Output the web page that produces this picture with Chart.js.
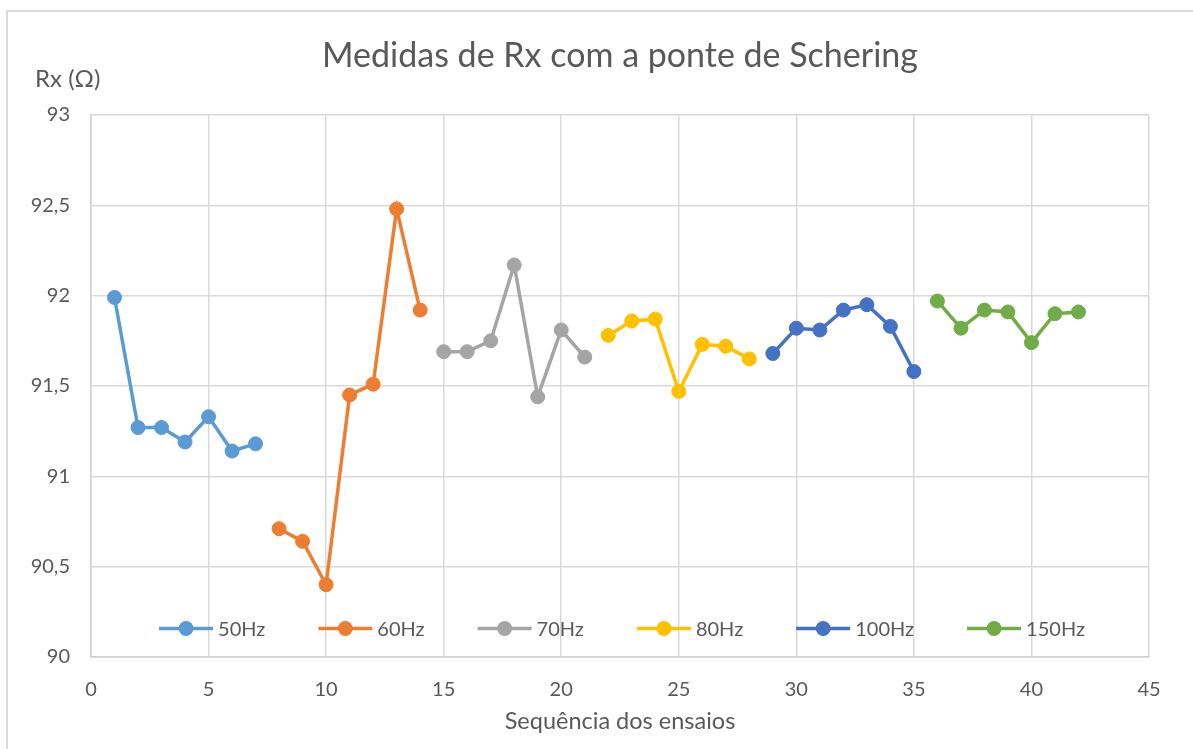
<!DOCTYPE html>
<html><head><meta charset="utf-8">
<script src="https://cdn.jsdelivr.net/npm/chart.js@4.4.0/dist/chart.umd.min.js"></script>
<style>html,body{margin:0;padding:0;background:#fff}canvas{display:block}</style>
</head><body>
<canvas id="c" width="1193" height="749"></canvas>
<script>
const chartTitle = 'Medidas de Rx com a ponte de Schering';
const yAxisTitle = 'Rx (\u03A9)';
const xAxisTitle = 'Sequência dos ensaios';
const seriesNames = ['50Hz', '60Hz', '70Hz', '80Hz', '100Hz', '150Hz'];
const seriesColors = ['#5B9BD5', '#ED7D31', '#A5A5A5', '#FFC000', '#4472C4', '#70AD47'];
const runs50 = [1, 2, 3, 4, 5, 6, 7];
const rx50 = [91.99, 91.27, 91.27, 91.19, 91.33, 91.14, 91.18];
const runs60 = [8, 9, 10, 11, 12, 13, 14];
const rx60 = [90.71, 90.64, 90.40, 91.45, 91.51, 92.48, 91.92];
const runs70 = [15, 16, 17, 18, 19, 20, 21];
const rx70 = [91.69, 91.69, 91.75, 92.17, 91.44, 91.81, 91.66];
const runs80 = [22, 23, 24, 25, 26, 27, 28];
const rx80 = [91.78, 91.86, 91.87, 91.47, 91.73, 91.72, 91.65];
const runs100 = [29, 30, 31, 32, 33, 34, 35];
const rx100 = [91.68, 91.82, 91.81, 91.92, 91.95, 91.83, 91.58];
const runs150 = [36, 37, 38, 39, 40, 41, 42];
const rx150 = [91.97, 91.82, 91.92, 91.91, 91.74, 91.90, 91.91];
const xTicks = [0, 5, 10, 15, 20, 25, 30, 35, 40, 45];
const yTicks = [90, 90.5, 91, 91.5, 92, 92.5, 93];

const allRuns = [runs50, runs60, runs70, runs80, runs100, runs150];
const allRx = [rx50, rx60, rx70, rx80, rx100, rx150];

const FONT = 'Lato, "Open Sans", sans-serif';
const TXT = '#595959';

const datasets = seriesNames.map((name, i) => ({
  label: name,
  data: allRuns[i].map((x, j) => ({ x: x, y: allRx[i][j] })),
  showLine: true,
  borderColor: seriesColors[i],
  backgroundColor: seriesColors[i],
  pointBackgroundColor: seriesColors[i],
  pointBorderColor: seriesColors[i],
  borderWidth: 3.5,
  pointRadius: 7,
  pointBorderWidth: 1,
  pointHoverRadius: 7,
  tension: 0
}));

const framePlugin = {
  id: 'frame',
  beforeDraw(chart) {
    const ctx = chart.ctx;
    ctx.save();
    ctx.fillStyle = '#fff';
    ctx.fillRect(0, 0, chart.width, chart.height);
    ctx.strokeStyle = '#d9d9d9';
    ctx.lineWidth = 2;
    ctx.strokeRect(7, 11, chart.width + 10, chart.height + 10);
    ctx.restore();
  },
  afterDraw(chart) {
    const ctx = chart.ctx;
    const area = chart.chartArea;
    ctx.save();
    // chart title centred over the plot area
    ctx.fillStyle = TXT;
    ctx.font = '34px ' + FONT;
    ctx.textAlign = 'center';
    ctx.textBaseline = 'alphabetic';
    ctx.fillText(chartTitle, (area.left + area.right) / 2, 67);
    // y axis title (horizontal, top-left)
    ctx.font = '24px ' + FONT;
    ctx.textAlign = 'left';
    ctx.fillText(yAxisTitle, 35, 87);
    // x axis title
    ctx.font = '23.5px ' + FONT;
    ctx.textAlign = 'center';
    ctx.fillText(xAxisTitle, (area.left + area.right) / 2, 729);
    // legend inside plot area
    ctx.font = '20px ' + FONT;
    ctx.textAlign = 'left';
    const lineLen = 54, textGap = 5, itemGap = 53;
    const widths = chart.data.datasets.map(d => lineLen + textGap + ctx.measureText(d.label).width);
    const total = widths.reduce((a, b) => a + b, 0) + itemGap * (widths.length - 1);
    let x = (area.left + area.right) / 2 - total / 2 + 2;
    const y = area.bottom - 28.5;
    chart.data.datasets.forEach((d, i) => {
      ctx.strokeStyle = d.borderColor;
      ctx.lineWidth = 3.5;
      ctx.beginPath();
      ctx.moveTo(x, y);
      ctx.lineTo(x + lineLen, y);
      ctx.stroke();
      ctx.fillStyle = d.borderColor;
      ctx.beginPath();
      ctx.arc(x + lineLen / 2, y, 7.5, 0, Math.PI * 2);
      ctx.fill();
      ctx.fillStyle = TXT;
      ctx.textBaseline = 'middle';
      ctx.fillText(d.label, x + lineLen + textGap, y + 1);
      x += widths[i] + itemGap;
    });
    ctx.restore();
  }
};

new Chart(document.getElementById('c'), {
  type: 'scatter',
  data: { datasets: datasets },
  plugins: [framePlugin],
  options: {
    responsive: false,
    devicePixelRatio: 1,
    animation: false,
    layout: { padding: { top: 115, left: 0, right: 44, bottom: 0 } },
    plugins: {
      legend: { display: false },
      tooltip: { enabled: false },
      title: { display: false }
    },
    scales: {
      x: {
        type: 'linear',
        min: 0, max: 45,
        afterBuildTicks: (s) => { s.ticks = xTicks.map(v => ({ value: v })); },
        afterFit: (s) => { s.height = 92; },
        ticks: { color: TXT, font: { family: FONT, size: 20 }, padding: 21, maxRotation: 0 },
        grid: { color: '#d9d9d9', lineWidth: 1.5, drawTicks: false },
        border: { color: '#d0d0d0', width: 1.5 }
      },
      y: {
        min: 90, max: 93,
        afterBuildTicks: (s) => { s.ticks = yTicks.map(v => ({ value: v })); },
        afterFit: (s) => { s.width = 91; },
        ticks: {
          color: TXT, font: { family: FONT, size: 20 }, padding: 21,
          callback: (v) => String(v).replace('.', ',')
        },
        grid: { color: '#d9d9d9', lineWidth: 1.5, drawTicks: false },
        border: { color: '#d0d0d0', width: 1.5 }
      }
    }
  }
});
</script>
</body></html>
